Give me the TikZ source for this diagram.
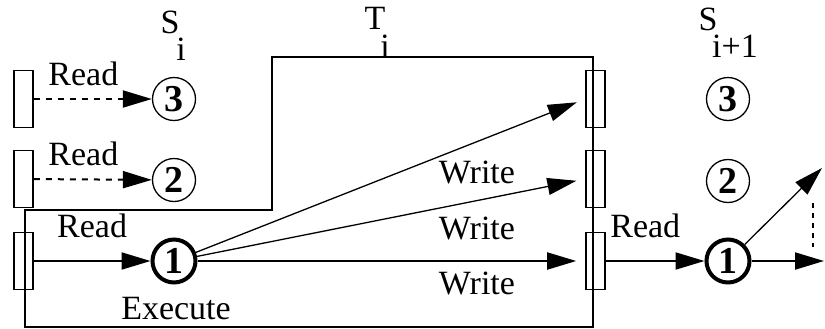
\documentclass[tikz,border=0pt]{standalone}
\usepackage{fontspec}
\setmainfont{Liberation Serif}
\usetikzlibrary{arrows.meta}

\begin{document}
\begin{tikzpicture}[x=0.5pt, y=-0.5pt, font=\fontsize{17}{20}\selectfont,
    >={Triangle[length=14.5pt, width=8.5pt]},
    reg/.style={rectangle, draw=black, line width=0.8pt,
                minimum width=9.5pt, minimum height=28.5pt, inner sep=0pt},
    sub/.style={circle, draw=black, line width=0.65pt, minimum size=21.5pt,
                inner sep=0pt, font=\fontsize{19}{22}\selectfont\bfseries},
    akt/.style={sub, line width=2pt},
    rd/.style={->, line width=1pt},
    rdp/.style={->, line width=1pt, dash pattern=on 3pt off 3pt},
    wr/.style={->, line width=0.65pt, shorten >=4.5pt},
    lbl/.style={inner sep=0pt}]

    \useasboundingbox (0,0) rectangle (825,328);

    % granica transakcije
    \draw [line width=0.8pt] (25,210) -- (272,210) -- (272,57) -- (593,57) -- (593,327) -- (25,327) -- cycle;

    \node (rl3) [reg] at (23.5,99)  {};
    \node (rl2) [reg] at (23.5,179) {};
    \node (rl1) [reg] at (23.5,261) {};
    \node (rr3) [reg] at (595.5,99)  {};
    \node (rr2) [reg] at (595.5,179) {};
    \node (rr1) [reg] at (595.5,261) {};

    \node (si3) [sub] at (174,99)  {3};
    \node (si2) [sub] at (174,180) {2};
    \node (si1) [akt] at (174,261) {1};
    \node (sj3) [sub] at (728,99)  {3};
    \node (sj2) [sub] at (728,181) {2};
    \node (sj1) [akt] at (728,261) {1};

    \coordinate (out1) at (824,261);
    \coordinate (out2) at (822,168);
    \coordinate (dt1)  at (813,203);
    \coordinate (dt2)  at (813,247);

    % oznake stanja
    \node (sS)  [lbl] at (170,22) {S};
    \node (sSi) [lbl] at (181,49) {i};
    \node (tT)  [lbl] at (375,18) {T};
    \node (tTi) [lbl] at (385,46) {i};
    \node (jS)  [lbl] at (708,19) {S};
    \node (jSi) [lbl] at (735,46) {i+1};

    % citanja i upisi
    \draw [rdp] (rl3) -- node[above=3pt, pos=0.42] {Read} (si3);
    \draw [rdp] (rl2) -- node[above=3pt, pos=0.42] {Read} (si2);
    \draw [rd]  (rl1) -- node[above=8pt, pos=0.5] {Read} (si1);
    \node (exe) [lbl] at (176,309) {Execute};
    \draw [wr] (si1) -- (rr3.west);
    \draw [wr] (si1) -- (rr2.west);
    \draw [wr, line width=1pt] (si1) -- (rr1.west);
    \node (wr1) [lbl] at (477,172) {Write};
    \node (wr2) [lbl] at (477,228) {Write};
    \node (wr3) [lbl] at (477,283) {Write};

    \draw [rd] (rr1) -- node[above=8pt, pos=0.4] {Read} (sj1);
    \draw [rd] (sj1) -- (out1);
    \draw [->, line width=0.65pt] (sj1) -- (out2);
    \draw [line width=1pt, dash pattern=on 2.5pt off 2.5pt] (dt1) -- (dt2);
\end{tikzpicture}
\end{document}
